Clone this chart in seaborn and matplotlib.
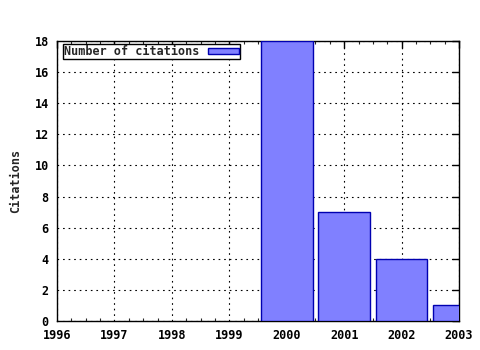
import matplotlib
matplotlib.use("Agg")
import matplotlib.pyplot as plt
import seaborn as sns
import pandas as pd
from matplotlib.ticker import MultipleLocator

years = [2000, 2001, 2002, 2003]
citations = [18, 7, 4, 1]
xticks = [1996, 1997, 1998, 1999, 2000, 2001, 2002, 2003]
yticks = [0, 2, 4, 6, 8, 10, 12, 14, 16, 18]

sns.set_theme(style="white")
plt.rcParams['font.family'] = ['DejaVu Sans Mono']
plt.rcParams['font.weight'] = 'bold'

df = pd.DataFrame({"year": years, "citations": citations})

fig = plt.figure(figsize=(4.8, 3.5), dpi=100)
ax = fig.add_axes([57/480, 1-321/350, (459-57)/480, (321-41)/350])

sns.barplot(data=df, x="year", y="citations", native_scale=True, width=0.9,
            color="#8080ff", saturation=1, edgecolor="#0000b0", linewidth=1,
            label="Number of citations", ax=ax, zorder=3)

ax.set_xlim(1996, 2003)
ax.set_ylim(0, 18)
ax.set_xticks(xticks)
ax.set_xticklabels([str(x) for x in xticks])
ax.set_yticks(yticks)
ax.xaxis.set_minor_locator(MultipleLocator(0.25))
ax.grid(True, which="major", color="black", linestyle=(0, (1.5, 3.5)), linewidth=0.8, zorder=0)
ax.set_axisbelow(True)
for s in ax.spines.values():
    s.set_visible(True)
    s.set_color("black")
    s.set_linewidth(1)
ax.tick_params(axis="both", which="major", direction="in", length=5, width=1,
               top=True, right=True, labelsize=8.5, colors="black", pad=6)
ax.tick_params(axis="x", which="minor", direction="in", length=2.5, width=0.8, top=True, bottom=True)
for lab in ax.get_xticklabels() + ax.get_yticklabels():
    lab.set_fontweight("bold")
ax.set_xlabel("")
ax.set_ylabel("Citations", fontsize=8.5, fontweight="bold", labelpad=9)

leg = ax.legend(loc="upper left", bbox_to_anchor=(0.014, 0.99), markerfirst=False,
                frameon=True, fancybox=False, framealpha=1, edgecolor="black",
                prop={"family": "DejaVu Sans Mono", "weight": "bold", "size": 8.5},
                handlelength=2.6, handleheight=0.45, borderpad=0.1, borderaxespad=0,
                handletextpad=0.75)
leg.get_frame().set_linewidth(1)

fig.savefig("out.png", dpi=100, facecolor="white")
